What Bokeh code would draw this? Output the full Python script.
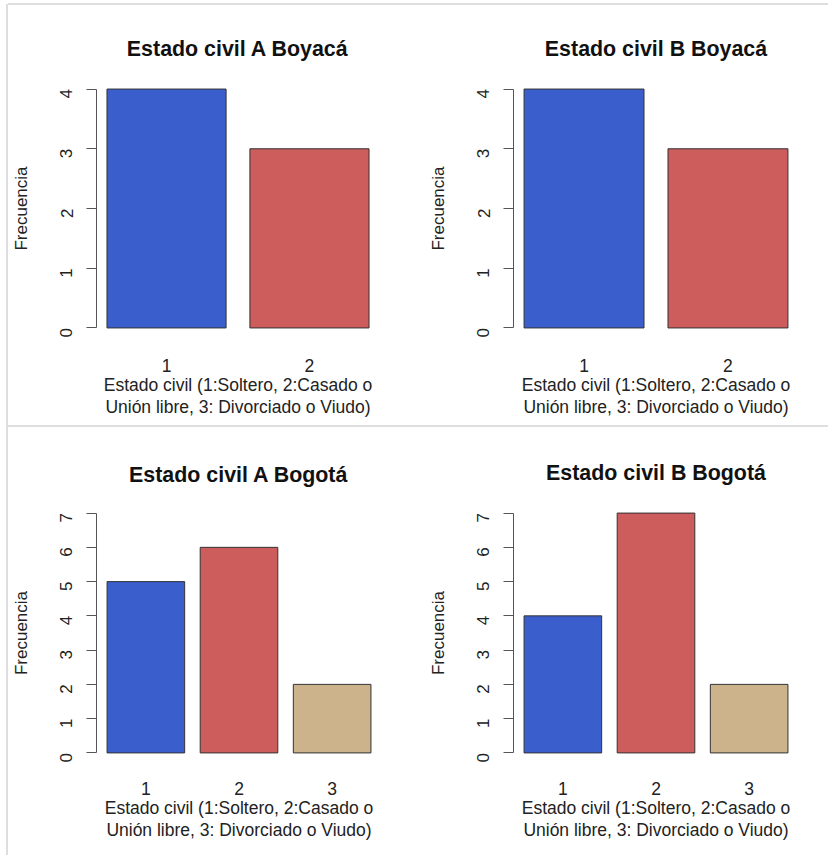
import math
from bokeh.plotting import figure
from bokeh.layouts import column, row
from bokeh.models import Div, FixedTicker, Range1d
from bokeh.embed import file_html
from bokeh.resources import INLINE

# ---- data ----
categories_boyaca = ["1", "2"]
freq_a_boyaca = [4, 3]
freq_b_boyaca = [4, 3]
categories_bogota = ["1", "2", "3"]
freq_a_bogota = [5, 6, 2]
freq_b_bogota = [4, 7, 2]
y_max_boyaca = 4
y_max_bogota = 7
bar_colors = ["#3A5FCD", "#CD5C5C", "#CDB38B"]
titles = ["Estado civil A Boyacá", "Estado civil B Boyacá",
          "Estado civil A Bogotá", "Estado civil B Bogotá"]
x_label = "Estado civil (1:Soltero, 2:Casado o\nUnión libre, 3: Divorciado o Viudo)"
y_label = "Frecuencia"

FONT = "Liberation Sans"
AXIS_COLOR = "#555555"
TEXT_COLOR = "#222222"
RULE_COLOR = "#dedede"


def make_panel(title, cats, vals, ymax, w, h, bl, br, bt, bb, x_standoff, title_standoff):
    n = len(cats)
    space, bw = 0.2, 1.0
    lefts = [space + i * (bw + space) for i in range(n)]
    centers = [l + bw / 2 for l in lefts]
    x0, x1 = lefts[0], lefts[-1] + bw
    pad = 0.04 * (x1 - x0)
    p = figure(width=w, height=h,
               x_range=Range1d(x0 - pad, x1 + pad),
               y_range=Range1d(-0.04 * ymax, 1.04 * ymax),
               output_backend="svg", toolbar_location=None,
               min_border_left=bl, min_border_right=br,
               min_border_top=bt, min_border_bottom=bb)
    p.vbar(x=centers, width=bw, bottom=0, top=vals,
           fill_color=bar_colors[:n], line_color="#333333", line_width=1)

    p.title.text = title
    p.title.align = "center"
    p.title.text_font = FONT
    p.title.text_font_size = "21.4px"
    p.title.text_font_style = "bold"
    p.title.text_color = "#111111"
    p.title.standoff = title_standoff

    p.xgrid.visible = False
    p.ygrid.visible = False
    p.outline_line_color = None

    # y axis, R style
    ya = p.yaxis[0]
    ya.ticker = FixedTicker(ticks=list(range(0, ymax + 1)))
    ya.bounds = (0, ymax)
    ya.axis_line_color = AXIS_COLOR
    ya.major_tick_line_color = AXIS_COLOR
    ya.major_tick_out = 10
    ya.major_tick_in = 0
    ya.minor_tick_line_color = None
    ya.major_label_orientation = math.pi / 2
    ya.major_label_text_font = FONT
    ya.major_label_text_font_size = "17px"
    ya.major_label_text_color = TEXT_COLOR
    ya.major_label_standoff = 20
    ya.axis_label = y_label
    ya.axis_label_text_font = FONT
    ya.axis_label_text_font_size = "17px"
    ya.axis_label_text_font_style = "normal"
    ya.axis_label_text_color = TEXT_COLOR
    ya.axis_label_standoff = 21

    # x axis: names under bars, no line
    xa = p.xaxis[0]
    xa.ticker = FixedTicker(ticks=centers)
    xa.major_label_overrides = {c: lab for c, lab in zip(centers, cats)}
    xa.axis_line_color = None
    xa.major_tick_line_color = None
    xa.minor_tick_line_color = None
    xa.major_tick_out = 0
    xa.major_tick_in = 0
    xa.major_label_text_font = FONT
    xa.major_label_text_font_size = "17.5px"
    xa.major_label_text_color = TEXT_COLOR
    xa.major_label_standoff = x_standoff
    xa.axis_label = x_label
    xa.axis_label_text_font = FONT
    xa.axis_label_text_font_size = "17.5px"
    xa.axis_label_text_font_style = "normal"
    xa.axis_label_text_color = TEXT_COLOR
    xa.axis_label_text_line_height = 1.1
    xa.axis_label_standoff = 0
    return p


p1 = make_panel(titles[0], categories_boyaca, freq_a_boyaca, y_max_boyaca,
                414, 420, 88, 43, 74, 88, 21, 38)
p2 = make_panel(titles[1], categories_boyaca, freq_b_boyaca, y_max_boyaca,
                406, 420, 91, 30, 74, 88, 21, 38)
p3 = make_panel(titles[2], categories_bogota, freq_a_bogota, y_max_bogota,
                414, 426, 88, 41, 75, 89, 19, 33)
p4 = make_panel(titles[3], categories_bogota, freq_b_bogota, y_max_bogota,
                406, 426, 91, 30, 76, 91, 19, 38)

left_rule = Div(text="", width=2, height=851, margin=(4, 0, 0, 6),
                styles={"background-color": RULE_COLOR})
top_rule = Div(text="", width=820, height=2, margin=(3, 0, 0, 0),
               styles={"background-color": RULE_COLOR})
mid_rule = Div(text="", width=820, height=2, margin=(0, 0, 0, 0),
               styles={"background-color": RULE_COLOR})

panels = column(top_rule, row(p1, p2, spacing=0), mid_rule, row(p3, p4, spacing=0),
                spacing=0)
layout = row(left_rule, panels, spacing=0)

open("out.html", "w").write(file_html(layout, INLINE))
